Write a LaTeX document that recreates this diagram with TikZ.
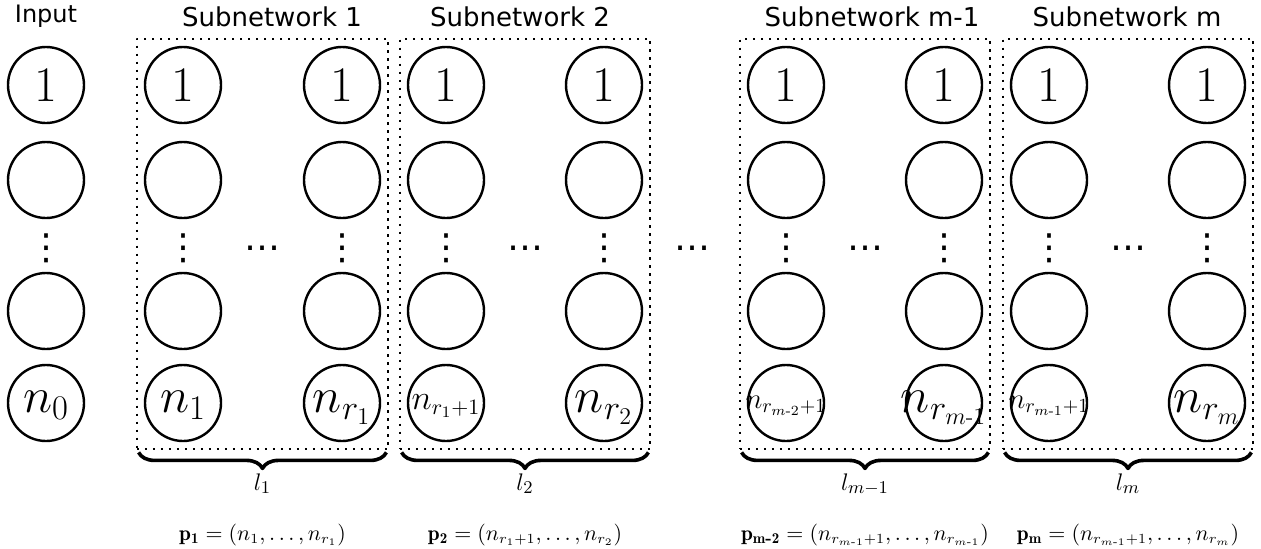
\documentclass[tikz,border=0pt]{standalone}
\usepackage{amsmath}
\usepackage{fontspec}
\newfontfamily\dejavu{DejaVu Sans}
\usetikzlibrary{fit,decorations.pathreplacing}
\newcommand{\hyph}{\text{-}}

\begin{document}
\begin{tikzpicture}[x=0.5pt, y=0.5pt, line join=round,
    neuron/.style={circle, draw, line width=1.2pt, minimum size=38pt, inner sep=0pt, font=\fontsize{23}{23}\selectfont},
    outn/.style={neuron, text height=15pt, text depth=5.7pt},
    smalln/.style={neuron, font=\fontsize{#1}{#1}\selectfont, text height=0.65*#1 pt, text depth=0.25*#1 pt},
    netbox/.style={draw, line width=1.2pt, dash pattern=on 1.2pt off 2.8pt, inner sep=3.5pt},
    skip/.style={inner sep=0pt, font=\dejavu\fontsize{18}{18}\selectfont},
    title/.style={anchor=base, font=\dejavu\fontsize{13}{13}\selectfont},
    lbl/.style={anchor=base, font=\fontsize{13}{13}\selectfont},
    plbl/.style={anchor=base, font=\fontsize{10.7}{10.7}\selectfont},
    brc/.style={decorate, decoration={brace, mirror, amplitude=8pt}, line width=1.8pt}]
    \useasboundingbox (0,0) rectangle (1261,548);
    \coordinate (lrow) at (0,58);
    \coordinate (prow) at (0,8);
    % columns of neurons
    \foreach \c/\x in {in/46, 1a/183, 1b/342, 2a/446, 2b/604, 3a/786, 3b/944, 4a/1049, 4b/1207}{
        \node[neuron] (\c-1) at (\x,463) {$1$};
        \node[neuron] (\c-2) at (\x,368) {};
        \node[skip] (\c-3) at (\x,300) {⋮};
        \node[neuron] (\c-4) at (\x,237) {};
    }
    \node[outn] (in-5) at (46,145) {$n_0$};
    \node[outn] (1a-5) at (183,145) {$n_1$};
    \node[outn] (1b-5) at (342,145) {$n_{r_1}$};
    \node[smalln=16] (2a-5) at (446,145) {\makebox[0pt]{$n_{r_1+1}$}};
    \node[outn] (2b-5) at (604,145) {$n_{r_2}$};
    \node[smalln=14] (3a-5) at (786,145) {\makebox[0pt]{$n_{r_{m\hyph2}+1}$}};
    \node[outn] (3b-5) at (944,145) {\makebox[0pt]{$n_{r_{m\hyph1}}$}};
    \node[smalln=14] (4a-5) at (1049,145) {\makebox[0pt]{$n_{r_{m\hyph1}+1}$}};
    \node[outn] (4b-5) at (1207,145) {\makebox[0pt]{$n_{r_m}$}};
    % subnetworks
    \node[netbox, fit=(1a-1)(1b-5)] (box1) {};
    \node[netbox, fit=(2a-1)(2b-5)] (box2) {};
    \node[netbox, fit=(3a-1)(3b-5)] (box3) {};
    \node[netbox, fit=(4a-1)(4b-5)] (box4) {};
    \foreach \b in {1,...,4}{
        \node[skip] (dots\b) at (box\b.center |- 1a-3) {…};
        \draw[brc] ([shift={(3,-2)}]box\b.south west) -- ([shift={(-3,-2)}]box\b.south east);
    }
    \node[skip] (gap) at (692,300) {…};
    % titles
    \node[title, font=\dejavu\fontsize{12}{12}\selectfont] (tin) at (46,526) {Input};
    \node[title] (t1) at (272,522) {Subnetwork 1};
    \node[title] (t2) at (520,522) {Subnetwork 2};
    \node[title] (t3) at (872,522) {Subnetwork m-1};
    \node[title] (t4) at (1127,522) {Subnetwork m};
    % lengths and parameters
    \node[lbl] (l1) at (box1.south |- lrow) {$l_1$};
    \node[lbl] (l2) at (box2.south |- lrow) {$l_2$};
    \node[lbl] (l3) at (box3.south |- lrow) {$l_{m-1}$};
    \node[lbl] (l4) at (box4.south |- lrow) {$l_m$};
    \node[plbl] (p1) at (box1.south |- prow) {$\mathbf{p_1} = (n_1, \ldots, n_{r_1})$};
    \node[plbl] (p2) at (box2.south |- prow) {$\mathbf{p_2} = (n_{r_1+1}, \ldots, n_{r_2})$};
    \node[plbl] (p3) at (box3.south |- prow) {$\mathbf{p_{m\text{\bfseries -}2}} = (n_{r_{m\hyph1}+1}, \ldots, n_{r_{m\hyph1}})$};
    \node[plbl] (p4) at (box4.south |- prow) {$\mathbf{p_m} = (n_{r_{m\hyph1}+1}, \ldots, n_{r_m})$};
\end{tikzpicture}
\end{document}
